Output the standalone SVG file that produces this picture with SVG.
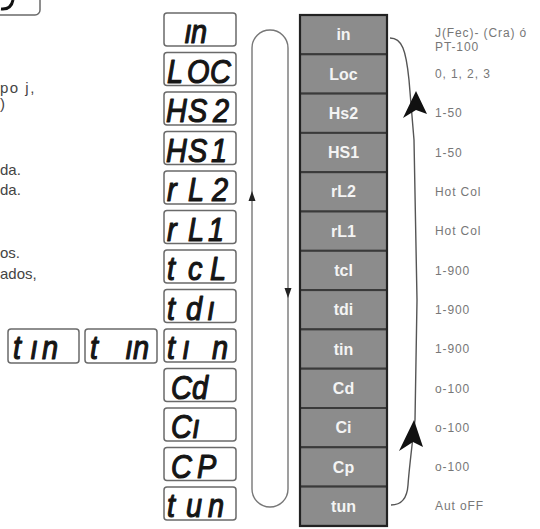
<svg xmlns="http://www.w3.org/2000/svg" width="540" height="529" viewBox="0 0 540 529">
<style>
.seg{fill:#fff;stroke:#6a6a6a;stroke-width:1.5}
.st{font-family:"Liberation Sans",Arial,sans-serif;font-style:italic;font-size:34px;fill:#151515;stroke:#151515;stroke-width:1.2;stroke-linejoin:round}
.cell{fill:#8c8c8c;stroke:#3a3a3a;stroke-width:2}
.cl{font-family:"Liberation Sans",Arial,sans-serif;font-weight:bold;font-size:16px;fill:#f4f4f4;text-anchor:middle}
.val{font-family:"Liberation Sans",Arial,sans-serif;font-size:12px;fill:#777;letter-spacing:0.9px}
.side{font-family:"Liberation Sans",Arial,sans-serif;font-size:15px;fill:#444}
.conn{fill:none;stroke:#555;stroke-width:1.4}
.head{fill:#111}
.loop{fill:none;stroke:#777;stroke-width:1.4}
.lh{fill:#222}
</style>
<rect width="540" height="529" fill="#fff"/>

<!-- cut-off items at the left -->
<g id="top-left-display">
<rect class="seg" x="-20" y="-20" width="60" height="35" rx="5"/>
<path d="M1,9 Q11,10 13,0" fill="none" stroke="#111" stroke-width="3"/>
</g>
<g id="side-text">
<text class="side" x="0" y="93" letter-spacing="1.5">po j,</text>
<text class="side" x="0" y="109">)</text>
<text class="side" x="0" y="175">da.</text>
<text class="side" x="0" y="195">da.</text>
<text class="side" x="0" y="258">os.</text>
<text class="side" x="0" y="279">ados,</text>
</g>

<!-- extra tin displays -->
<g id="disp-tin-1"><rect class="seg" x="8" y="329" width="71" height="34" rx="3"/><text class="st" transform="scale(0.85,1)" x="15.3 35.3 49.4" y="359">tın</text></g>
<g id="disp-tin-2"><rect class="seg" x="85" y="329" width="72" height="34" rx="3"/><text class="st" transform="scale(0.85,1)" x="105.9 147.1 156.5" y="359">tın</text></g>

<!-- seven segment column -->
<g id="disp-in"><rect class="seg" x="164" y="13" width="72" height="33" rx="3"/><text class="st" transform="scale(0.85,1)" x="216.5 224.7" y="43">ın</text></g>
<g id="disp-LOC"><rect class="seg" x="164" y="52.5" width="72" height="33" rx="3"/><text class="st" transform="scale(0.85,1)" x="196.5 220 247.1" y="83">LOC</text></g>
<g id="disp-HS2"><rect class="seg" x="164" y="92" width="72" height="33" rx="3"/><text class="st" transform="scale(0.85,1)" x="195.3 221.2 250.6" y="122">HS2</text></g>
<g id="disp-HS1"><rect class="seg" x="164" y="131.5" width="72" height="33" rx="3"/><text class="st" transform="scale(0.85,1)" x="195.3 221.2 248.2" y="162">HS1</text></g>
<g id="disp-rL2"><rect class="seg" x="164" y="171" width="72" height="33" rx="3"/><text class="st" transform="scale(0.85,1)" x="196.5 221.2 249.4" y="201">rL2</text></g>
<g id="disp-rL1"><rect class="seg" x="164" y="210.5" width="72" height="33" rx="3"/><text class="st" transform="scale(0.85,1)" x="196.5 221.2 244.7" y="241">rL1</text></g>
<g id="disp-tcL"><rect class="seg" x="164" y="250" width="72" height="33" rx="3"/><text class="st" transform="scale(0.85,1)" x="196.5 221.2 247.1" y="280">tcL</text></g>
<g id="disp-tdi"><rect class="seg" x="164" y="289.5" width="72" height="33" rx="3"/><text class="st" transform="scale(0.85,1)" x="196.5 218.8 243.5" y="320">tdı</text></g>
<g id="disp-tin"><rect class="seg" x="164" y="329" width="72" height="33" rx="3"/><text class="st" transform="scale(0.85,1)" x="196.5 214.1 249.4" y="359">tın</text></g>
<g id="disp-Cd"><rect class="seg" x="164" y="368.5" width="72" height="33" rx="3"/><text class="st" transform="scale(0.85,1)" x="201.2 225.9" y="399">Cd</text></g>
<g id="disp-Ci"><rect class="seg" x="164" y="408" width="72" height="33" rx="3"/><text class="st" transform="scale(0.85,1)" x="201.2 225.9" y="438">Cı</text></g>
<g id="disp-CP"><rect class="seg" x="164" y="447.5" width="72" height="33" rx="3"/><text class="st" transform="scale(0.85,1)" x="201.2 231.8" y="478">CP</text></g>
<g id="disp-tun"><rect class="seg" x="164" y="487" width="72" height="33" rx="3"/><text class="st" transform="scale(0.85,1)" x="196.5 218.8 244.7" y="517">tun</text></g>

<!-- parameter column -->
<g id="row-in"><rect class="cell" x="300" y="15" width="87" height="39.3"/><text class="cl" x="343.5" y="40">in</text><text class="val" x="435" y="37">J(Fec)- (Cra) ó</text><text class="val" x="435" y="51">PT-100</text></g>
<g id="row-Loc"><rect class="cell" x="300" y="54.3" width="87" height="39.3"/><text class="cl" x="343.5" y="79.5">Loc</text><text class="val" x="435" y="78">0, 1, 2, 3</text></g>
<g id="row-Hs2"><rect class="cell" x="300" y="93.6" width="87" height="39.3"/><text class="cl" x="343.5" y="118.8">Hs2</text><text class="val" x="435" y="117">1-50</text></g>
<g id="row-HS1"><rect class="cell" x="300" y="132.9" width="87" height="39.3"/><text class="cl" x="343.5" y="158">HS1</text><text class="val" x="435" y="156.5">1-50</text></g>
<g id="row-rL2"><rect class="cell" x="300" y="172.2" width="87" height="39.3"/><text class="cl" x="343.5" y="197.4">rL2</text><text class="val" x="435" y="196">Hot  Col</text></g>
<g id="row-rL1"><rect class="cell" x="300" y="211.5" width="87" height="39.3"/><text class="cl" x="343.5" y="236.7">rL1</text><text class="val" x="435" y="235">Hot  Col</text></g>
<g id="row-tcl"><rect class="cell" x="300" y="250.8" width="87" height="39.3"/><text class="cl" x="343.5" y="276">tcl</text><text class="val" x="435" y="274.5">1-900</text></g>
<g id="row-tdi"><rect class="cell" x="300" y="290.1" width="87" height="39.3"/><text class="cl" x="343.5" y="315.3">tdi</text><text class="val" x="435" y="314">1-900</text></g>
<g id="row-tin"><rect class="cell" x="300" y="329.4" width="87" height="39.3"/><text class="cl" x="343.5" y="354.6">tin</text><text class="val" x="435" y="353">1-900</text></g>
<g id="row-Cd"><rect class="cell" x="300" y="368.7" width="87" height="39.3"/><text class="cl" x="343.5" y="393.9">Cd</text><text class="val" x="435" y="392.5">o-100</text></g>
<g id="row-Ci"><rect class="cell" x="300" y="408" width="87" height="39.3"/><text class="cl" x="343.5" y="433.2">Ci</text><text class="val" x="435" y="432">o-100</text></g>
<g id="row-Cp"><rect class="cell" x="300" y="447.3" width="87" height="39.3"/><text class="cl" x="343.5" y="472.5">Cp</text><text class="val" x="435" y="471">o-100</text></g>
<g id="row-tun"><rect class="cell" x="300" y="486.6" width="87" height="39.3"/><text class="cl" x="343.5" y="511.8">tun</text><text class="val" x="435" y="510">Aut  oFF</text></g>
<rect x="300" y="15" width="87" height="511" fill="none" stroke="#222" stroke-width="2.2"/>

<!-- connectors -->
<g id="connectors">
<rect class="loop" x="252" y="30" width="36" height="477" rx="18"/>
<polygon class="lh" points="252,191 248.5,201 255.5,201"/>
<polygon class="lh" points="288,298 284.5,288 291.5,288"/>
<path class="conn" d="M390,38 C402,38 406,50 409,80 L414,140 L417,300 L415,420 C412,445 409,470 408,485 C407,500 400,505 391,505"/>
<polygon class="head" points="416,91 427,114 416,110 403,118"/>
<polygon class="head" points="414,420 423,447 413,442 399,451"/>
</g>
</svg>
